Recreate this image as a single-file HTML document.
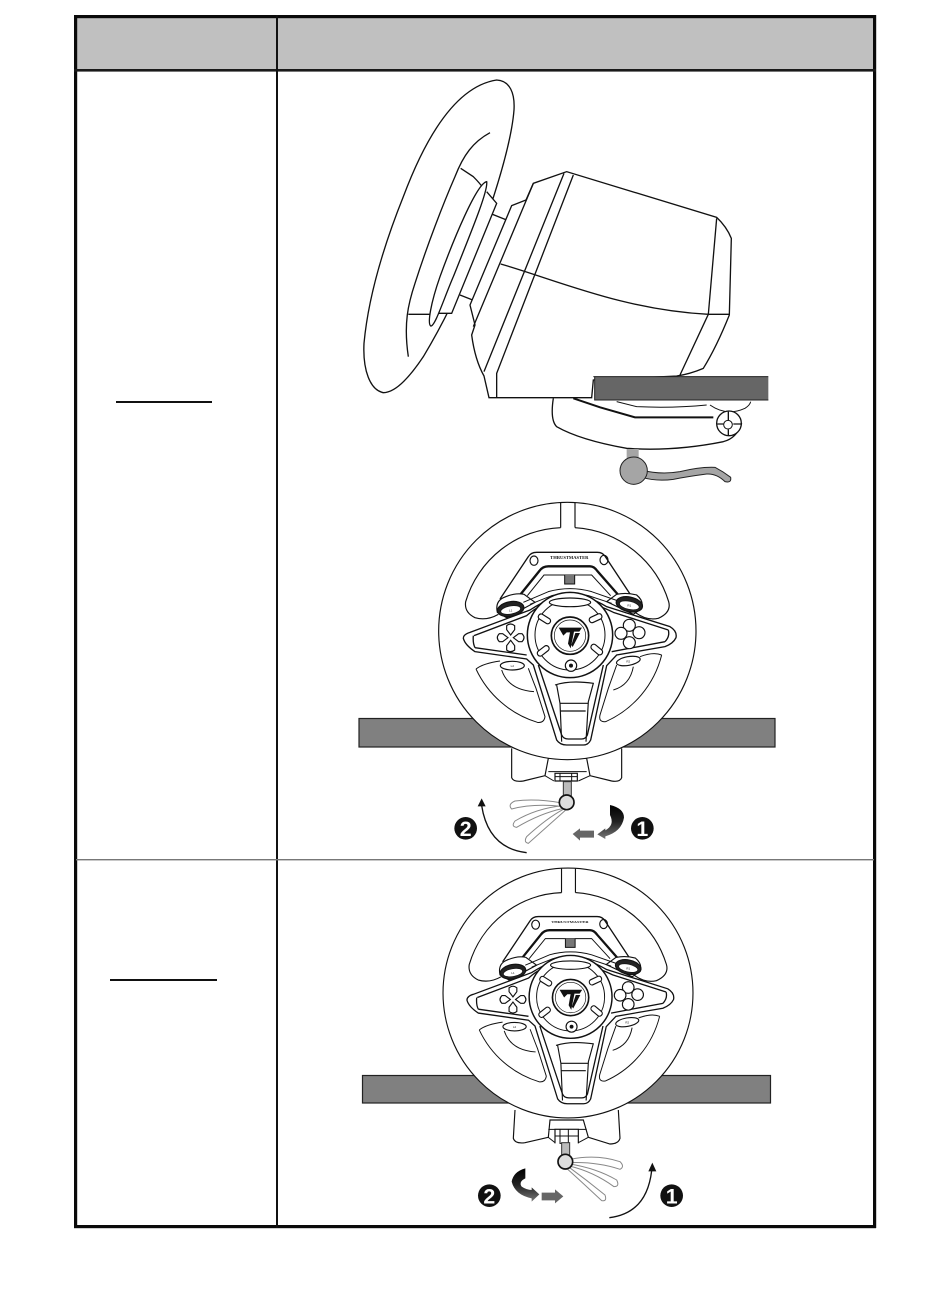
<!DOCTYPE html>
<html><head><meta charset="utf-8"><style>html,body{margin:0;padding:0;background:#fff}svg{display:block}</style></head><body>
<svg width="950" height="1301" viewBox="0 0 950 1301" xmlns="http://www.w3.org/2000/svg" font-family="'Liberation Sans',sans-serif">
<defs>
<linearGradient id="g1" x1="0" y1="0" x2="0" y2="1"><stop offset="0" stop-color="#000"/><stop offset=".5" stop-color="#222"/><stop offset="1" stop-color="#777"/></linearGradient>
<g id="wheel" fill="none" stroke="#111" stroke-width="3.5">
<circle cx="442" cy="408" r="386" fill="#fff"/>
<path d="M422 24V98M465 24V98"/>
<path d="M422 98A310 310 0 0 0 137 320Q132 352 165 368Q200 378 235 358M465 98A315 315 0 0 1 746 320Q755 352 715 370Q680 378 645 352"/>
<path d="M240 312L325 185Q333 172 350 172H532Q548 172 556 185L640 312" stroke-width="4"/>
<ellipse cx="342" cy="197" rx="12" ry="14"/><ellipse cx="552" cy="195" rx="12" ry="14"/>
<text x="448" y="192" font-size="11" font-weight="bold" text-anchor="middle" fill="#111" stroke="none" font-family="'Liberation Serif',serif" textLength="115" lengthAdjust="spacingAndGlyphs">THRUSTMASTER</text>
<path d="M300 300L358 228Q368 214 385 214H510Q522 214 532 228L595 300" stroke-width="7"/>
<path d="M322 302L372 240H515L572 302" stroke-width="3"/>
<path d="M434 240V267H464V240" fill="#777" stroke-width="3"/>
<path d="M232 352Q225 320 250 308Q285 292 312 298L345 322L260 368Z" fill="#fff"/>
<path d="M665 340Q672 318 650 300Q620 292 590 298L560 320L640 358Z" fill="#fff"/>
<path d="M150 412L330 345Q400 300 450 298Q500 300 560 335L750 395Q772 408 768 428Q760 445 735 455L590 480L560 512L512 735Q505 750 490 750H440Q420 750 410 735L340 510L320 492L165 470Q135 450 130 430Q130 418 150 412Z" fill="#fff" stroke-width="4"/>
<path d="M310 322L385 290Q450 272 515 290L595 318M330 328L395 302Q450 288 505 302L575 325" stroke-width="3"/>
<path d="M162 422L320 362Q345 340 360 335M745 405L580 352Q555 340 540 335M165 458L320 480M735 440L575 470M160 422Q158 445 165 458M745 405Q750 425 735 440" stroke-width="4"/>
<path d="M355 510L425 720Q430 732 445 732H485Q497 732 502 720L550 510" stroke-width="4"/>
<path d="M405 570Q450 555 520 565L505 620L498 740M410 570L420 625L425 740M420 625H505M420 648H497" stroke-width="3.5"/>
<ellipse cx="272" cy="342" rx="40" ry="22" transform="rotate(-10 272 342)" fill="#222"/>
<ellipse cx="272" cy="345" rx="30" ry="12" transform="rotate(-10 272 345)" fill="#fff" stroke-width="2"/>
<ellipse cx="628" cy="328" rx="40" ry="22" transform="rotate(12 628 328)" fill="#222"/>
<ellipse cx="628" cy="331" rx="30" ry="12" transform="rotate(12 628 331)" fill="#fff" stroke-width="2"/>
<text x="272" y="349" font-size="9" text-anchor="middle" fill="#111" stroke="none">L1</text>
<text x="628" y="335" font-size="9" text-anchor="middle" fill="#111" stroke="none">R1</text>
<ellipse cx="277" cy="512" rx="36" ry="13" fill="#fff"/><ellipse cx="625" cy="498" rx="36" ry="13" transform="rotate(-10 625 498)" fill="#fff"/>
<text x="277" y="516" font-size="9" text-anchor="middle" fill="#111" stroke="none">L2</text>
<text x="625" y="502" font-size="9" text-anchor="middle" fill="#111" stroke="none">R2</text>
<path d="M168 522Q190 505 240 498M168 522A300 300 0 0 0 352 682Q372 685 375 665L348 580Q340 560 325 520M245 525Q265 585 342 590" stroke-width="3"/>
<path d="M725 480Q700 470 660 485M725 480A298 298 0 0 1 557 680Q535 682 540 660L565 580L590 510M580 585Q630 570 640 515" stroke-width="3"/>
<circle cx="450" cy="420" r="128" fill="#fff" stroke-width="4.500"/>
<circle cx="450" cy="420" r="105" fill="#fff" stroke-width="3"/>
<circle cx="450" cy="422" r="56" fill="#fff" stroke-width="5"/>
<circle cx="450" cy="422" r="47" fill="#fff" stroke-width="2"/>
<path d="M416 398H486L478 410H462L452 460L444 446L450 412H440L430 422ZM466 414H480L458 456L454 450Z" fill="#111" stroke="none"/>
<ellipse cx="450" cy="322" rx="62" ry="13" fill="#fff"/>
<rect x="353" y="363" width="40" height="17" rx="8" transform="rotate(32 373 372)" fill="#fff"/>
<rect x="507" y="361" width="40" height="17" rx="8" transform="rotate(-25 527 370)" fill="#fff"/>
<rect x="350" y="459" width="40" height="17" rx="8" transform="rotate(-38 370 468)" fill="#fff"/>
<rect x="510" y="455" width="40" height="17" rx="8" transform="rotate(40 530 464)" fill="#fff"/>
<circle cx="453" cy="512" r="17" fill="#fff"/><circle cx="453" cy="512" r="6" fill="#111" stroke="none"/>
<path d="M272 420L260 404V392Q272 382 284 392V404ZM272 436L260 452V465Q272 475 284 465V452ZM264 428L248 416H238Q226 428 238 440H248ZM280 428L296 416H306Q318 428 306 440H296Z" fill="#fff"/>
<circle cx="628" cy="391" r="18" fill="#fff"/><circle cx="657" cy="413" r="18" fill="#fff"/><circle cx="603" cy="415" r="18" fill="#fff"/><circle cx="628" cy="443" r="18" fill="#fff"/>
</g>
</defs>

<!-- table -->
<rect x="76" y="17" width="798" height="53" fill="#c0c0c0"/>
<rect x="74" y="15" width="802" height="3.2" fill="#0a0a0a"/>
<rect x="74" y="1225" width="802" height="3.2" fill="#0a0a0a"/>
<rect x="74" y="15" width="3.2" height="1213" fill="#0a0a0a"/>
<rect x="873" y="15" width="3.2" height="1213" fill="#0a0a0a"/>
<rect x="74" y="69" width="802" height="2.6" fill="#1a1a1a"/>
<rect x="276" y="15" width="2" height="1213" fill="#111"/>
<rect x="76" y="859" width="798" height="1.4" fill="#777"/>
<rect x="116" y="401" width="96" height="2" fill="#111"/>
<rect x="110" y="979" width="107" height="2" fill="#111"/>

<!-- side view -->
<g transform="translate(340 70) scale(.33333)" fill="none" stroke="#111" stroke-width="4">
<path d="M640 985Q630 1050 650 1070Q720 1110 860 1135Q1000 1145 1150 1115Q1190 1105 1205 1060" fill="#fff"/>
<path d="M830 995L890 1010Q1000 1015 1100 1005M1110 1005Q1160 1040 1215 1015Q1230 1005 1232 995" stroke-width="3"/>
<path d="M700 985L780 1012L885 1042H1120" stroke-width="6"/>
<circle cx="1167" cy="1060" r="37" fill="#fff" stroke-width="4"/>
<circle cx="1164" cy="1064" r="13" stroke-width="3"/><path d="M1165 1025V1050M1165 1078V1098M1132 1062H1150M1180 1062H1204" stroke-width="4"/>
<rect x="860" y="1137" width="36" height="30" fill="#a5a5a5" stroke="none"/>
<path d="M905 1200Q960 1215 1020 1205Q1080 1190 1125 1192Q1150 1205 1172 1222Q1175 1240 1155 1235Q1130 1210 1100 1212Q1040 1220 1000 1228Q950 1235 905 1222Z" fill="#a5a5a5" stroke="#222" stroke-width="3"/>
<circle cx="881" cy="1202" r="41" fill="#a5a5a5" stroke="#222" stroke-width="3"/>
<path d="M470 30C510 32 525 70 522 120C515 210 470 360 420 500C370 640 310 760 250 860C200 935 160 968 130 968C90 960 68 900 72 820C85 680 130 530 190 380C250 220 340 50 470 30Z" fill="#fff"/>
<path d="M450 188C400 215 370 255 345 320C310 400 260 530 225 640C205 700 190 760 205 860M362 295L400 320Q420 340 430 355M205 733H275"/>
<path d="M440 365L470 400L335 730H290M455 432L500 450M360 675L398 690" fill="#fff"/>
<path d="M440 335C445 360 400 470 340 620C310 690 285 770 272 768C262 760 272 700 300 620C340 510 410 340 440 335Z" fill="#fff"/>
<path d="M515 407L558 390L580 340L680 305L1130 442Q1160 470 1174 505L1168 735Q1130 830 1090 895Q1050 912 1010 918L760 930L755 983H447L432 918Q405 870 395 795L405 765L390 705Z" fill="#fff"/>
<path d="M580 340L400 770M672 310L432 905M700 315L470 910V983M482 582C650 630 850 720 1105 733H1168M1130 445L1105 733L1020 915"/>
<rect x="764" y="921" width="521" height="70" fill="#666" stroke="none"/>
<path d="M760 920H1285M764 921V990H1285" stroke="#222" stroke-width="3"/>
</g>

<!-- bars -->
<rect x="359" y="718.5" width="416" height="28.5" fill="#808080" stroke="#222" stroke-width="1.2"/>
<rect x="362.500" y="1075.500" width="408" height="27.500" fill="#808080" stroke="#222" stroke-width="1.2"/>

<!-- figure 1 -->
<g transform="translate(420 495) scale(.33333)">
<path d="M275 760V848Q280 862 310 858L375 842L385 790H500L510 842L575 858Q600 862 605 848V760" fill="#fff" stroke="#111" stroke-width="3.5"/>
<path d="M375 842L402 858M510 842L475 858M385 830H500" fill="none" stroke="#111" stroke-width="3"/>
<path d="M405 858V835H472V858Z" fill="#fff" stroke="#111" stroke-width="3.5"/><path d="M420 835V858M455 835V858M405 845H472" stroke="#111" stroke-width="3"/>
<rect x="430" y="860" width="24" height="45" fill="#bbb" stroke="#333" stroke-width="3"/>
<use href="#wheel"/>
<path d="M425 924Q350 910 285 918Q262 928 275 942Q340 925 425 934M428 932Q350 940 285 978Q272 995 290 997Q360 955 430 940M432 942Q380 970 320 1025Q310 1042 325 1045Q370 1005 436 946" fill="none" stroke="#888" stroke-width="3"/>
<circle cx="440" cy="922" r="22" fill="#ddd" stroke="#111" stroke-width="5"/>
<path d="M320 1073Q205 1060 185 932" fill="none" stroke="#111" stroke-width="4"/>
<path d="M185 910L173 934L197 934Z" fill="#111"/>
<circle cx="137" cy="1000" r="34" fill="#111"/>
<text x="137" y="1023" font-size="64" font-weight="bold" fill="#fff" text-anchor="middle">2</text>
<circle cx="667" cy="1000" r="34" fill="#111"/>
<text x="667" y="1023" font-size="64" font-weight="bold" fill="#fff" text-anchor="middle">1</text>
<path d="M570 930Q612 940 612 968Q605 1010 556 1024V1032L532 1018L556 1000V1006Q585 990 570 960Z" fill="url(#g1)"/>
<path d="M458 1017L480 1000V1007H522V1028H480V1037Z" fill="#666"/>
</g>

<!-- figure 2 -->
<g transform="translate(420 860) scale(.33333)">
<path d="M285 750L280 835Q285 852 315 848L385 832L390 780H490L505 832L570 852Q595 852 600 835L595 750" fill="#fff" stroke="#111" stroke-width="3.5"/>
<path d="M385 832L405 848M505 832L475 848M385 808H500" fill="none" stroke="#111" stroke-width="3"/>
<path d="M405 850V808H475V850" fill="#fff" stroke="#111" stroke-width="3.5"/><path d="M420 808V850H445V808M405 828H475" fill="none" stroke="#111" stroke-width="3"/>
<rect x="425" y="848" width="24" height="45" fill="#bbb" stroke="#333" stroke-width="3"/>
</g>
<g transform="translate(568 993) scale(.3238) translate(-442 -408)"><use href="#wheel"/></g>
<g transform="translate(420 860) scale(.33333)">
<path d="M450 898Q530 882 600 905Q615 920 600 928Q530 905 450 908M450 912Q530 925 590 960Q600 980 582 980Q520 935 448 918M445 920Q500 960 555 1005Q562 1025 545 1022Q490 970 440 925" fill="none" stroke="#888" stroke-width="3"/>
<circle cx="436" cy="905" r="22" fill="#ddd" stroke="#111" stroke-width="5"/>
<path d="M568 1073Q680 1060 695 932" fill="none" stroke="#111" stroke-width="4"/>
<path d="M697 908L685 934L709 934Z" fill="#111"/>
<circle cx="208" cy="1007" r="34" fill="#111"/>
<text x="208" y="1030" font-size="64" font-weight="bold" fill="#fff" text-anchor="middle">2</text>
<circle cx="755" cy="1007" r="34" fill="#111"/>
<text x="755" y="1030" font-size="64" font-weight="bold" fill="#fff" text-anchor="middle">1</text>
<path d="M316 925V955Q295 965 305 980Q320 990 335 990V982L358 1003L335 1025V1015Q285 1005 275 965Q280 935 316 925Z" fill="url(#g1)"/>
<path d="M365 998H405V988L430 1009L405 1030V1021H365Z" fill="#666"/>
</g>
</svg>
</body></html>
